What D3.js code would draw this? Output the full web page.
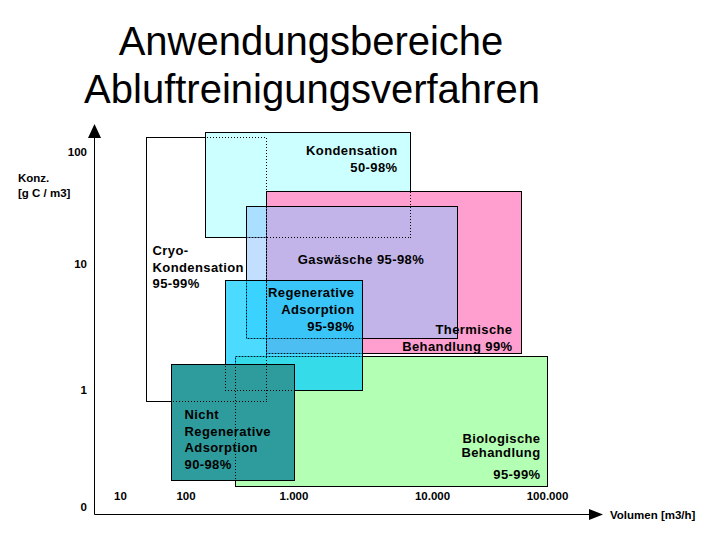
<!DOCTYPE html>
<html>
<head>
<meta charset="utf-8">
<script src="https://cdn.jsdelivr.net/npm/d3@7"></script>
<style>
  body { margin: 0; background: #fff; }
  svg { display: block; }
  text { font-family: Arial, "Liberation Sans", sans-serif; fill: #000; }
</style>
</head>
<body>
<div id="chart"></div>
<script>
// Ticks
const volumeTicks = [10, 100, 1000, 10000, 100000];
const volumeTickLabels = ['10', '100', '1.000', '10.000', '100.000'];
const concTicks = [0.1, 1, 10, 100];
const concTickLabels = ['0', '1', '10', '100'];

// Process ranges (drawing order, bottom to top)
const processes = ['cryo', 'kond', 'therm', 'gas', 'bio', 'reg', 'nreg'];
const volMin = [25, 150, 560, 360, 290, 230, 60];
const volMax = [560, 6900, 59000, 16500, 100000, 3100, 1000];
const concMin = [0.8, 17.3, 1.95, 2.6, 0.15, 1, 0.17];
const concMax = [136, 150, 45, 33, 1.85, 7.5, 1.6];
const labelLines = [
  ['Cryo-', 'Kondensation', '95-99%'],
  ['Kondensation', '50-98%'],
  ['Thermische', 'Behandlung 99%'],
  ['Gaswäsche 95-98%'],
  ['Biologische', 'Behandlung', '95-99%'],
  ['Regenerative', 'Adsorption', '95-98%'],
  ['Nicht', 'Regenerative', 'Adsorption', '90-98%']
];

const width = 720, height = 540;

// fills: colour + opacity (the original used see-through dot patterns)
const fills = {
  cryo:  ['#ffffff', 1],
  kond:  ['#ccffff', 1],
  therm: ['#ff9fcf', 1],
  gas:   ['#8fc4ff', 0.55],
  bio:   ['#b3ffb3', 1],
  reg:   ['#00ccff', 0.7],
  nreg:  ['#2e9c9c', 1]
};

// label placement: anchor, x offset from edge, baseline offsets from rect top
const labelLayout = {
  cryo:  { anchor: 'start',  dx: 6,     dy: [117.5, 134.5, 150.5] },
  kond:  { anchor: 'end',    dx: -13,   dy: [22, 39] },
  therm: { anchor: 'end',    dx: -9,    dy: [142, 159] },
  gas:   { anchor: 'middle', dx: 114.5, dy: [57.5] },
  bio:   { anchor: 'end',    dx: -7,    dy: [86, 100, 122] },
  reg:   { anchor: 'end',    dx: -8,    dy: [16.5, 33.5, 50.5] },
  nreg:  { anchor: 'start',  dx: 13,    dy: [54.5, 71.5, 87.5, 104.5] }
};

const svg = d3.select('#chart').append('svg')
  .attr('width', width)
  .attr('height', height);

// Scales (log, uneven decades as in the original)
const x = d3.scaleLog()
  .domain(volumeTicks)
  .range([120, 185.5, 293.5, 432, 547]);

const y = d3.scaleLog()
  .domain(concTicks)
  .range([507, 390, 264, 152]);

const px = v => Math.round(v) + 0.5;

const boxes = processes.map((id, i) => ({
  id,
  x0: px(x(volMin[i])),
  x1: px(x(volMax[i])),
  y0: px(y(concMax[i])),
  y1: px(y(concMin[i])),
  lines: labelLines[i]
}));

// Filled rectangles
svg.append('g').selectAll('rect')
  .data(boxes)
  .join('rect')
  .attr('x', d => d.x0)
  .attr('y', d => d.y0)
  .attr('width', d => d.x1 - d.x0)
  .attr('height', d => d.y1 - d.y0)
  .attr('fill', d => fills[d.id][0])
  .attr('fill-opacity', d => fills[d.id][1])
  .attr('stroke', '#000')
  .attr('stroke-width', 1)
  .attr('shape-rendering', 'crispEdges');

// Hidden outlines show through as dotted lines
svg.append('g').selectAll('rect')
  .data(boxes)
  .join('rect')
  .attr('x', d => d.x0)
  .attr('y', d => d.y0)
  .attr('width', d => d.x1 - d.x0)
  .attr('height', d => d.y1 - d.y0)
  .attr('fill', 'none')
  .attr('stroke', '#000')
  .attr('stroke-width', 1)
  .attr('stroke-dasharray', '1,2')
  .attr('shape-rendering', 'crispEdges');

// Labels
const labels = svg.append('g')
  .attr('font-size', 13)
  .attr('font-weight', 'bold')
  .attr('letter-spacing', 0.4);

boxes.forEach(b => {
  const l = labelLayout[b.id];
  const ax = l.anchor === 'end' ? b.x1 : b.x0;
  b.lines.forEach((t, j) => {
    labels.append('text')
      .attr('x', ax + l.dx)
      .attr('y', b.y0 + l.dy[j])
      .attr('text-anchor', l.anchor)
      .text(t);
  });
});

// Axes lines with arrows
const axisX = 94.5, axisY = 514.5;
svg.append('line')
  .attr('x1', axisX).attr('x2', axisX)
  .attr('y1', 135).attr('y2', axisY)
  .attr('stroke', '#000');
svg.append('line')
  .attr('x1', axisX).attr('x2', 592)
  .attr('y1', axisY).attr('y2', axisY)
  .attr('stroke', '#000');
svg.append('path')
  .attr('d', `M${axisX},124 L${axisX - 6.5},138 L${axisX + 6.5},138 Z`)
  .attr('fill', '#000');
svg.append('path')
  .attr('d', `M603,${axisY} L589,${axisY - 5.5} L589,${axisY + 5.5} Z`)
  .attr('fill', '#000');

// Tick labels
const xAxis = d3.axisBottom(x)
  .tickValues(volumeTicks)
  .tickFormat((d, i) => volumeTickLabels[i])
  .tickSize(0)
  .tickPadding(0);

svg.append('g')
  .attr('transform', 'translate(0,492)')
  .call(xAxis)
  .call(g => g.select('.domain').remove())
  .call(g => g.selectAll('text')
    .attr('font-family', 'Arial, "Liberation Sans", sans-serif')
    .attr('font-size', 11.5)
    .attr('font-weight', 'bold')
    .attr('fill', '#000'));

const yAxis = d3.axisLeft(y)
  .tickValues(concTicks)
  .tickFormat((d, i) => concTickLabels[i])
  .tickSize(0)
  .tickPadding(0);

svg.append('g')
  .attr('transform', 'translate(87,0)')
  .call(yAxis)
  .call(g => g.select('.domain').remove())
  .call(g => g.selectAll('text')
    .attr('font-family', 'Arial, "Liberation Sans", sans-serif')
    .attr('font-size', 11.5)
    .attr('font-weight', 'bold')
    .attr('fill', '#000'));

// Axis titles
const axisTitles = svg.append('g')
  .attr('font-size', 11.5)
  .attr('font-weight', 'bold');
axisTitles.append('text').attr('x', 18).attr('y', 182).text('Konz.');
axisTitles.append('text').attr('x', 18).attr('y', 197).text('[g C / m3]');
axisTitles.append('text').attr('x', 610).attr('y', 519).text('Volumen [m3/h]');

// Title
const title = svg.append('g')
  .attr('font-size', 40)
  .attr('text-anchor', 'middle');
title.append('text').attr('x', 311).attr('y', 55).text('Anwendungsbereiche');
title.append('text').attr('x', 312).attr('y', 103).text('Abluftreinigungsverfahren');
</script>
</body>
</html>
